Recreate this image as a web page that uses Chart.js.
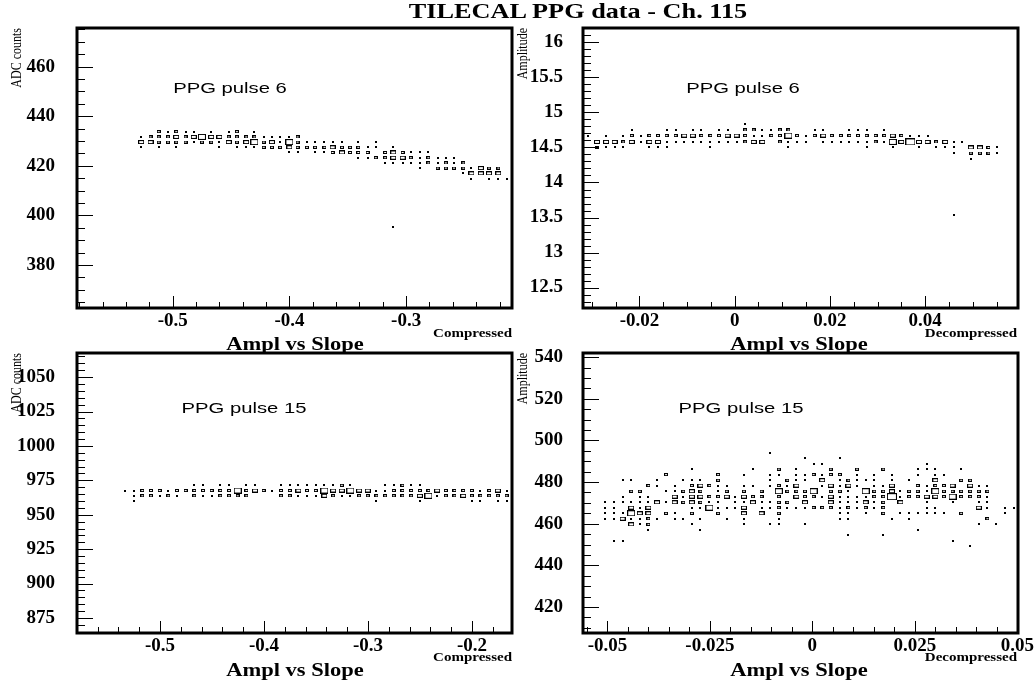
<!DOCTYPE html>
<html>
<head>
<meta charset="utf-8">
<title>TILECAL PPG data - Ch. 115</title>
<script src="https://cdn.jsdelivr.net/npm/chart.js@4.4.1/dist/chart.umd.min.js"></script>
<style>
  html, body { margin: 0; padding: 0; background: #fff; width: 1035px; height: 685px; overflow: hidden; }
  #page { position: relative; width: 1035px; height: 685px; }
  canvas { position: absolute; }
  .lbl { position: absolute; white-space: nowrap; color: #000; line-height: 1;
         font-family: "Liberation Serif", "Times New Roman", serif; font-weight: bold; }
  .mid { transform: translate(-50%, -50%) scaleX(1.25); }
  .end { transform-origin: 100% 50%; transform: translate(-100%, -50%) scaleX(1.25); }
  .ytl { font-weight: normal; font-size: 12px; transform-origin: 0 0;
         transform: scaleX(1.25) rotate(-90deg) translate(-100%, -50%); }
  .pulse { font-family: "Liberation Sans", Arial, sans-serif; font-weight: normal; font-size: 15px;
           transform: translate(-50%, -50%) scaleX(1.35); }
</style>
</head>
<body>
<div id="page">
  <canvas id="c1" width="520" height="328" style="left:0;top:20px"></canvas>
  <canvas id="c2" width="512" height="328" style="left:523px;top:20px"></canvas>
  <canvas id="c3" width="520" height="328" style="left:0;top:345px"></canvas>
  <canvas id="c4" width="512" height="328" style="left:523px;top:345px"></canvas>

  <div class="lbl mid" style="left:578px;top:11px;font-size:21px">TILECAL PPG data - Ch. 115</div>

  <div class="lbl mid" style="left:295px;top:344px;font-size:18px">Ampl vs Slope</div>
  <div class="lbl mid" style="left:799px;top:344px;font-size:18px">Ampl vs Slope</div>
  <div class="lbl mid" style="left:295px;top:670px;font-size:18px">Ampl vs Slope</div>
  <div class="lbl mid" style="left:799px;top:670px;font-size:18px">Ampl vs Slope</div>

  <div class="lbl end" style="left:512px;top:333px;font-size:12px">Compressed</div>
  <div class="lbl end" style="left:1017px;top:333px;font-size:12px">Decompressed</div>
  <div class="lbl end" style="left:512px;top:657px;font-size:12px">Compressed</div>
  <div class="lbl end" style="left:1017px;top:657px;font-size:12px">Decompressed</div>

  <div class="lbl ytl" style="left:16px;top:28px">ADC counts</div>
  <div class="lbl ytl" style="left:522px;top:28px">Amplitude</div>
  <div class="lbl ytl" style="left:16px;top:353px">ADC counts</div>
  <div class="lbl ytl" style="left:522px;top:353px">Amplitude</div>

  <div class="lbl pulse" style="left:230px;top:87px">PPG pulse 6</div>
  <div class="lbl pulse" style="left:743px;top:87px">PPG pulse 6</div>
  <div class="lbl pulse" style="left:244px;top:407px">PPG pulse 15</div>
  <div class="lbl pulse" style="left:741px;top:407px">PPG pulse 15</div>
</div>

<script>
'use strict';

/* ---------- data: bin centres + filled bins [col, row, size] ---------- */

// pulse 6, compressed
const p1Cols = [-0.527, -0.519, -0.512, -0.504, -0.497, -0.489, -0.482, -0.475, -0.467, -0.460,
  -0.452, -0.445, -0.437, -0.430, -0.422, -0.415, -0.408, -0.400, -0.393, -0.385,
  -0.378, -0.370, -0.363, -0.355, -0.348, -0.341, -0.333, -0.326, -0.318, -0.311,
  -0.303, -0.296, -0.288, -0.281, -0.273, -0.266, -0.259, -0.251, -0.244, -0.236,
  -0.229, -0.221, -0.214];
const p1Rows = [433.8, 431.7, 429.6, 427.5, 425.4, 423.3, 421.2, 419.1, 417.0, 414.9];
const p1Cells = [
  [2,0,2],[3,0,1],[4,0,2],[5,0,1],[6,0,1],[8,0,1],[10,0,1],[11,0,2],[13,0,1],
  [0,1,1],[1,1,2],[2,1,2],[3,1,2],[4,1,3],[5,1,2],[6,1,3],[7,1,4],[8,1,3],[9,1,3],[10,1,2],
  [11,1,2],[12,1,2],[13,1,2],[14,1,1],[15,1,1],[16,1,1],[17,1,1],[18,1,2],
  [0,2,3],[1,2,3],[2,2,2],[3,2,2],[4,2,2],[5,2,2],[6,2,1],[7,2,2],[8,2,2],[9,2,1],[10,2,3],
  [11,2,2],[12,2,3],[13,2,4],[14,2,2],[15,2,3],[16,2,1],[17,2,4],[18,2,2],[19,2,1],[20,2,1],
  [21,2,1],[22,2,1],[23,2,1],[25,2,1],[27,2,1],
  [0,3,1],[2,3,1],[4,3,1],[9,3,1],[11,3,1],[12,3,1],[13,3,1],[14,3,2],[15,3,2],[16,3,2],
  [17,3,3],[18,3,2],[19,3,2],[20,3,2],[21,3,2],[22,3,3],[23,3,2],[24,3,2],[25,3,2],[26,3,1],
  [27,3,1],[29,3,1],
  [17,4,1],[18,4,1],[20,4,1],[21,4,1],[22,4,2],[23,4,3],[24,4,2],[25,4,2],[26,4,2],[28,4,2],
  [29,4,3],[30,4,2],[31,4,1],[32,4,1],[33,4,1],
  [25,5,1],[26,5,1],[27,5,2],[28,5,2],[29,5,3],[30,5,3],[31,5,2],[32,5,1],[33,5,2],[34,5,1],
  [35,5,1],[36,5,1],
  [28,6,1],[29,6,1],[30,6,1],[31,6,1],[32,6,1],[33,6,2],[34,6,1],[35,6,2],[36,6,1],[37,6,2],
  [32,7,1],[34,7,2],[35,7,2],[36,7,2],[37,7,2],[38,7,1],[39,7,3],[40,7,2],[41,7,2],
  [37,8,1],[38,8,3],[39,8,3],[40,8,3],[41,8,3],
  [38,9,1],[40,9,1],[41,9,1],[42,9,1]
];
const p1Strays = [[-0.311, 395.4, 1]];

// pulse 6, decompressed
const p2Cols = [-0.0307, -0.0289, -0.0270, -0.0252, -0.0234, -0.0216, -0.0197, -0.0179, -0.0161, -0.0143,
  -0.0124, -0.0106, -0.0088, -0.0070, -0.0051, -0.0033, -0.0015, 0.0004, 0.0022, 0.0040,
  0.0058, 0.0077, 0.0095, 0.0113, 0.0131, 0.0150, 0.0168, 0.0186, 0.0204, 0.0223,
  0.0241, 0.0259, 0.0277, 0.0296, 0.0314, 0.0332, 0.0350, 0.0369, 0.0387, 0.0405,
  0.0423, 0.0442, 0.0460, 0.0478, 0.0496, 0.0515, 0.0533, 0.0551];
const p2Rows = [14.83, 14.75, 14.67, 14.58, 14.50, 14.42, 14.34];
const p2Cells = [
  [18,0,1],
  [5,1,1],[9,1,1],[10,1,1],[12,1,1],[13,1,1],[15,1,1],[16,1,1],[18,1,2],[19,1,2],[20,1,1],
  [21,1,1],[22,1,2],[23,1,2],[26,1,1],[27,1,1],[30,1,1],[31,1,1],[32,1,1],[34,1,1],
  [0,2,1],[2,2,1],[4,2,1],[5,2,2],[6,2,1],[7,2,2],[8,2,2],[9,2,2],[10,2,2],[11,2,3],
  [12,2,3],[13,2,2],[14,2,2],[15,2,2],[16,2,3],[17,2,3],[18,2,2],[19,2,1],[20,2,1],[21,2,2],
  [22,2,2],[23,2,4],[24,2,2],[25,2,1],[26,2,2],[27,2,3],[28,2,2],[29,2,2],[30,2,2],[31,2,2],
  [32,2,2],[33,2,2],[34,2,2],[35,2,3],[36,2,2],[37,2,1],[38,2,1],[39,2,1],
  [1,3,3],[2,3,3],[3,3,3],[4,3,2],[5,3,3],[6,3,1],[7,3,3],[8,3,3],[9,3,1],[10,3,1],
  [11,3,1],[12,3,1],[13,3,1],[14,3,1],[15,3,1],[16,3,1],[17,3,1],[18,3,2],[19,3,3],[20,3,3],
  [22,3,2],[23,3,1],[24,3,1],[25,3,1],[27,3,1],[28,3,1],[29,3,1],[30,3,1],[31,3,1],[32,3,1],
  [33,3,2],[34,3,1],[35,3,4],[36,3,3],[37,3,5],[38,3,3],[39,3,3],[40,3,2],[41,3,3],[42,3,1],
  [43,3,1],
  [1,4,2],[2,4,1],[3,4,1],[4,4,1],[7,4,1],[8,4,1],[9,4,1],[14,4,1],[23,4,1],[32,4,1],
  [35,4,1],[38,4,1],[40,4,1],[41,4,1],[42,4,1],[44,4,3],[45,4,3],[46,4,2],[47,4,1],
  [42,5,1],[44,5,2],[45,5,2],[46,5,2],[47,5,1],
  [44,6,1]
];
const p2Strays = [[0.046, 13.54, 1]];

// pulse 15, compressed
const p3Cols = [-0.5337, -0.5254, -0.5170, -0.5087, -0.5003, -0.4920, -0.4837, -0.4753, -0.4670, -0.4586,
  -0.4503, -0.4420, -0.4336, -0.4253, -0.4169, -0.4086, -0.4003, -0.3919, -0.3836, -0.3752,
  -0.3669, -0.3586, -0.3502, -0.3419, -0.3335, -0.3252, -0.3169, -0.3085, -0.3002, -0.2918,
  -0.2835, -0.2752, -0.2668, -0.2585, -0.2501, -0.2418, -0.2335, -0.2251, -0.2168, -0.2084,
  -0.2001, -0.1918, -0.1834, -0.1751, -0.1667];
const p3Rows = [971.4, 967.6, 963.8, 960.0];
const p3Cells = [
  [8,0,1],[9,0,1],[11,0,1],[12,0,1],[14,0,1],[15,0,1],[18,0,1],[19,0,1],[20,0,1],[21,0,1],
  [22,0,1],[23,0,1],[24,0,1],[25,0,2],[26,0,1],[30,0,1],[31,0,1],[32,0,2],[33,0,1],[34,0,1],
  [0,1,1],[1,1,1],[2,1,2],[3,1,2],[4,1,2],[5,1,1],[6,1,2],[7,1,2],[8,1,2],[9,1,2],
  [10,1,2],[11,1,2],[12,1,2],[13,1,4],[14,1,2],[15,1,3],[16,1,2],[17,1,1],[18,1,2],[19,1,2],
  [20,1,3],[21,1,2],[22,1,2],[23,1,4],[24,1,3],[25,1,3],[26,1,4],[27,1,3],[28,1,3],[29,1,1],
  [30,1,1],[31,1,2],[32,1,2],[33,1,2],[34,1,2],[35,1,2],[36,1,3],[37,1,2],[38,1,2],[39,1,2],
  [40,1,2],[41,1,1],[42,1,2],[43,1,3],[44,1,1],
  [1,2,1],[2,2,2],[3,2,2],[4,2,1],[5,2,2],[6,2,1],[8,2,2],[9,2,1],[10,2,1],[11,2,2],
  [12,2,2],[13,2,2],[14,2,2],[18,2,2],[19,2,2],[20,2,1],[21,2,1],[22,2,1],[23,2,3],[24,2,2],
  [25,2,1],[26,2,1],[27,2,2],[28,2,2],[29,2,2],[30,2,2],[31,2,2],[32,2,2],[33,2,2],[34,2,3],
  [35,2,4],[36,2,1],[37,2,2],[38,2,2],[39,2,3],[40,2,2],[41,2,2],[42,2,2],[43,2,2],[44,2,2],
  [1,3,1],[29,3,1],[34,3,1],[40,3,1],[41,3,1],[43,3,1],[44,3,1]
];
const p3Strays = [];

// pulse 15, decompressed
const p4Cols = [-0.0506, -0.0485, -0.0463, -0.0442, -0.0421, -0.0400, -0.0379, -0.0357, -0.0336, -0.0315,
  -0.0294, -0.0273, -0.0251, -0.0230, -0.0209, -0.0188, -0.0167, -0.0145, -0.0124, -0.0103,
  -0.0082, -0.0061, -0.0039, -0.0018, 0.0003, 0.0024, 0.0045, 0.0067, 0.0088, 0.0109,
  0.0130, 0.0151, 0.0173, 0.0194, 0.0215, 0.0236, 0.0257, 0.0279, 0.0300, 0.0321,
  0.0342, 0.0363, 0.0385, 0.0406, 0.0427, 0.0448, 0.0469, 0.0491];
const p4Rows = [494.2, 491.5, 488.9, 486.2, 483.6, 480.9, 478.3, 475.6, 473.0, 470.3,
  467.7, 465.0, 462.4, 459.7, 457.1, 454.4, 451.8, 449.1];
const p4Cells = [
  [19,0,1],
  [23,1,1],[27,1,1],
  [24,2,1],[25,2,1],[37,2,1],
  [10,3,1],[17,3,1],[20,3,2],[22,3,1],[26,3,2],[29,3,2],[32,3,2],[36,3,1],[37,3,1],[38,3,1],[41,3,1],
  [7,4,2],[13,4,2],[16,4,1],[19,4,1],[20,4,1],[22,4,1],[23,4,1],[24,4,2],[25,4,1],[26,4,2],
  [27,4,2],[29,4,1],[31,4,1],[33,4,1],[36,4,1],[38,4,1],[39,4,1],
  [2,5,1],[3,5,1],[6,5,1],[9,5,1],[10,5,1],[11,5,1],[13,5,2],[19,5,1],[21,5,2],[22,5,1],
  [23,5,1],[25,5,3],[27,5,1],[28,5,2],[29,5,1],[30,5,1],[31,5,1],[33,5,1],[35,5,1],[38,5,3],
  [41,5,2],[42,5,2],
  [5,6,2],[6,6,1],[8,6,1],[10,6,2],[11,6,3],[12,6,2],[13,6,1],[14,6,1],[16,6,1],[17,6,1],
  [19,6,1],[20,6,2],[21,6,1],[22,6,3],[25,6,1],[26,6,3],[27,6,1],[28,6,3],[29,6,1],[31,6,1],
  [32,6,1],[33,6,3],[36,6,2],[37,6,1],[38,6,2],[39,6,2],[40,6,3],[42,6,3],[43,6,1],[44,6,1],
  [3,7,2],[4,7,2],[7,7,1],[8,7,1],[9,7,2],[10,7,3],[11,7,2],[13,7,1],[14,7,2],[16,7,2],
  [18,7,2],[20,7,4],[21,7,2],[22,7,2],[23,7,2],[24,7,4],[26,7,2],[27,7,2],[28,7,1],[30,7,4],
  [31,7,2],[32,7,2],[33,7,3],[34,7,1],[35,7,2],[36,7,2],[37,7,1],[38,7,4],[39,7,2],[40,7,2],
  [41,7,2],[42,7,2],[43,7,2],[44,7,2],
  [2,8,1],[4,8,1],[5,8,1],[8,8,3],[9,8,1],[10,8,3],[11,8,3],[12,8,2],[13,8,2],[14,8,3],
  [15,8,1],[16,8,3],[17,8,2],[18,8,2],[20,8,2],[22,8,3],[23,8,2],[24,8,2],[25,8,1],[26,8,3],
  [27,8,1],[28,8,1],[29,8,1],[30,8,1],[31,8,2],[32,8,2],[33,8,5],[34,8,1],[35,8,2],[36,8,2],
  [37,8,3],[38,8,3],[39,8,2],[40,8,4],[41,8,2],[42,8,2],[43,8,2],[44,8,1],
  [0,9,1],[1,9,1],[2,9,1],[3,9,1],[4,9,1],[5,9,1],[6,9,3],[7,9,1],[8,9,3],[9,9,2],
  [10,9,3],[11,9,2],[12,9,1],[13,9,1],[15,9,1],[16,9,1],[17,9,3],[18,9,1],[19,9,1],[20,9,2],
  [21,9,2],[23,9,3],[26,9,3],[27,9,1],[28,9,1],[29,9,1],[30,9,3],[31,9,1],[32,9,2],[34,9,3],
  [37,9,1],[40,9,1],[43,9,1],[44,9,1],
  [0,10,1],[1,10,1],[3,10,3],[4,10,1],[5,10,3],[10,10,1],[11,10,1],[12,10,4],[13,10,1],[14,10,1],
  [15,10,1],[16,10,3],[18,10,1],[19,10,1],[20,10,2],[21,10,1],[22,10,1],[23,10,1],[24,10,2],[25,10,2],
  [26,10,2],[27,10,1],[28,10,2],[29,10,1],[30,10,2],[31,10,1],[32,10,2],[37,10,1],[38,10,1],[43,10,3],
  [44,10,1],[46,10,1],[47,10,1],
  [0,11,1],[1,11,1],[2,11,1],[3,11,4],[4,11,3],[5,11,3],[7,11,2],[8,11,1],[10,11,2],[13,11,2],
  [16,11,3],[18,11,3],[20,11,2],[27,11,1],[28,11,1],[30,11,1],[32,11,2],[34,11,1],[35,11,1],[36,11,1],
  [37,11,1],[38,11,1],[39,11,1],[41,11,2],[46,11,1],
  [0,12,1],[1,12,1],[2,12,3],[3,12,1],[4,12,1],[5,12,2],[6,12,1],[8,12,1],[9,12,1],[11,12,1],
  [14,12,1],[16,12,1],[20,12,1],[27,12,1],[28,12,1],[33,12,1],[35,12,1],[44,12,2],
  [3,13,3],[4,13,1],[5,13,2],[10,13,1],[16,13,1],[19,13,1],[20,13,1],[23,13,1],[43,13,1],[45,13,1],
  [5,14,1],[11,14,1],[36,14,1],
  [28,15,1],[32,15,1],
  [1,16,1],[2,16,1],[40,16,1],
  [42,17,1]
];
const p4Strays = [];

// axis ranges and labelled ticks
const p1XRange = [-0.582, -0.2093];  const p1YRange = [362.7, 475.6];
const p2XRange = [-0.03185, 0.0595]; const p2YRange = [12.208, 16.206];
const p3XRange = [-0.5798, -0.1615]; const p3YRange = [864.1, 1067.5];
const p4XRange = [-0.05596, 0.05017]; const p4YRange = [407.5, 542.0];

const p1XTicks = [-0.5, -0.4, -0.3];
const p1YTicks = [380, 400, 420, 440, 460];
const p2XTicks = [-0.02, 0, 0.02, 0.04];
const p2YTicks = [12.5, 13, 13.5, 14, 14.5, 15, 15.5, 16];
const p3XTicks = [-0.5, -0.4, -0.3, -0.2];
const p3YTicks = [875, 900, 925, 950, 975, 1000, 1025, 1050];
const p4XTicks = [-0.05, -0.025, 0, 0.025, 0.05];
const p4YTicks = [420, 440, 460, 480, 500, 520, 540];

/* ---------- box markers (ROOT "box" style) ---------- */
function boxSprite(w, h, filled) {
  const c = document.createElement('canvas');
  c.width = w; c.height = h;
  const g = c.getContext('2d');
  if (filled) {
    g.fillStyle = '#000';
    g.fillRect(0, 0, w, h);
  } else {
    g.strokeStyle = '#000';
    g.lineWidth = 1;
    g.strokeRect(0.5, 0.5, w - 1, h - 1);
  }
  return c;
}
const SPRITES = [null, boxSprite(2, 2, true), boxSprite(4, 3), boxSprite(6, 4), boxSprite(8, 6), boxSprite(10, 7)];

function toPoints(cols, rows, cells, strays) {
  const pts = cells.map(([c, r, w]) => ({ x: cols[c], y: rows[r], w }));
  strays.forEach(([x, y, w]) => pts.push({ x, y, w }));
  return pts;
}

/* ---------- frame + inward ticks, drawn from the scales ---------- */
function stepValues(min, max, step) {
  const out = [];
  const first = Math.ceil(min / step - 1e-9);
  for (let i = first; i * step <= max + 1e-12; i++) out.push(Math.round(i * step * 1e6) / 1e6);
  return out;
}

const rootFrame = {
  id: 'rootFrame',
  afterDraw(chart, args, o) {
    const { ctx, chartArea: a } = chart;
    const xs = chart.scales.x, ys = chart.scales.y;
    ctx.save();
    ctx.strokeStyle = '#000';
    ctx.lineWidth = 1;
    ctx.beginPath();
    stepValues(xs.min, xs.max, o.xMinor).forEach(v => {
      const major = o.xMajor.some(m => Math.abs(m - v) < o.xMinor / 10);
      const px = Math.round(xs.getPixelForValue(v)) + 0.5;
      ctx.moveTo(px, a.bottom);
      ctx.lineTo(px, a.bottom - (major ? 12 : 6));
    });
    stepValues(ys.min, ys.max, o.yMinor).forEach(v => {
      const major = o.yMajor.some(m => Math.abs(m - v) < o.yMinor / 10);
      const py = Math.round(ys.getPixelForValue(v)) + 0.5;
      ctx.moveTo(a.left, py);
      ctx.lineTo(a.left + (major ? 16 : 8), py);
    });
    ctx.stroke();
    ctx.lineWidth = 3;
    ctx.strokeRect(a.left, a.top, a.right - a.left, a.bottom - a.top);
    ctx.restore();
  }
};

const TICK_FONT = { family: "'Liberation Serif', 'Times New Roman', serif", size: 19, weight: 'bold' };

function makePanel(id, p) {
  return new Chart(document.getElementById(id), {
    type: 'scatter',
    data: {
      datasets: [{
        data: p.points,
        pointStyle: c => SPRITES[c.raw.w],
        pointRadius: 3,
        pointHoverRadius: 3
      }]
    },
    options: {
      responsive: false,
      animation: false,
      events: [],
      layout: { padding: { top: 8, right: p.padRight, left: 0, bottom: 0 } },
      plugins: {
        legend: { display: false },
        tooltip: { enabled: false },
        rootFrame: { xMinor: p.xMinor, yMinor: p.yMinor, xMajor: p.xTicks, yMajor: p.yTicks }
      },
      scales: {
        x: {
          type: 'linear', min: p.xRange[0], max: p.xRange[1],
          grid: { display: false, drawTicks: false },
          border: { display: false },
          afterBuildTicks: s => { s.ticks = p.xTicks.map(v => ({ value: v })); },
          afterFit: s => { s.height = 40; s.paddingLeft = 0; s.paddingRight = 0; },
          ticks: { color: '#000', font: TICK_FONT, padding: 2, autoSkip: false, maxRotation: 0,
                   callback: v => String(v) }
        },
        y: {
          type: 'linear', min: p.yRange[0], max: p.yRange[1],
          grid: { display: false, drawTicks: false },
          border: { display: false },
          afterBuildTicks: s => { s.ticks = p.yTicks.map(v => ({ value: v })); },
          afterFit: s => { s.width = p.axisW; s.paddingTop = 0; s.paddingBottom = 0; },
          ticks: { color: '#000', font: TICK_FONT, padding: p.labelPad, autoSkip: false,
                   callback: v => String(v) }
        }
      }
    },
    plugins: [rootFrame]
  });
}

makePanel('c1', { points: toPoints(p1Cols, p1Rows, p1Cells, p1Strays), xRange: p1XRange, yRange: p1YRange,
  xTicks: p1XTicks, yTicks: p1YTicks, xMinor: 0.02, yMinor: 5, axisW: 77, labelPad: 22, padRight: 8 });
makePanel('c2', { points: toPoints(p2Cols, p2Rows, p2Cells, p2Strays), xRange: p2XRange, yRange: p2YRange,
  xTicks: p2XTicks, yTicks: p2YTicks, xMinor: 0.005, yMinor: 0.1, axisW: 60, labelPad: 20, padRight: 17 });
makePanel('c3', { points: toPoints(p3Cols, p3Rows, p3Cells, p3Strays), xRange: p3XRange, yRange: p3YRange,
  xTicks: p3XTicks, yTicks: p3YTicks, xMinor: 0.02, yMinor: 5, axisW: 77, labelPad: 22, padRight: 8 });
makePanel('c4', { points: toPoints(p4Cols, p4Rows, p4Cells, p4Strays), xRange: p4XRange, yRange: p4YRange,
  xTicks: p4XTicks, yTicks: p4YTicks, xMinor: 0.005, yMinor: 5, axisW: 60, labelPad: 20, padRight: 17 });
</script>
</body>
</html>
